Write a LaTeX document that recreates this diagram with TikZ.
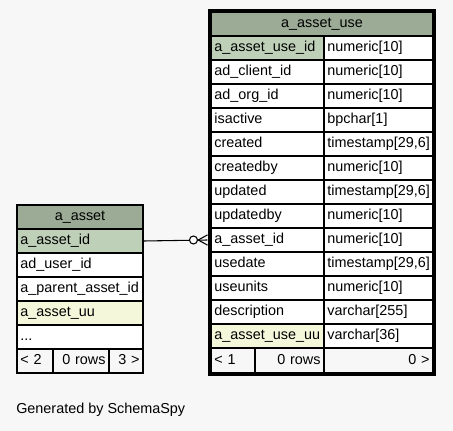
\documentclass[tikz,border=0pt]{standalone}
\usepackage{fontspec}
\setmainfont{Liberation Sans}
\definecolor{pagebg}{HTML}{F7F7F7}
\definecolor{hdr}{HTML}{9BAB96}
\definecolor{pk}{HTML}{BED1B8}
\definecolor{idx}{HTML}{F4F7DA}
\definecolor{foot}{HTML}{F7F7F7}
\tikzset{
  cell/.style={draw=black, line width=0.9pt, rectangle, inner xsep=2.6pt, inner ysep=0pt,
    font=\fontsize{10.8}{12}\selectfont, text height=8pt, text depth=2.4pt},
  conn/.style={draw=black, line width=0.8pt},
  focusborder/.style={draw=black, line width=2.4pt},
}
% name, x1, y1, x2, y2, fill, align, text
\newcommand{\mkcell}[8]{%
  \node[cell, fill=#6, minimum width={(#4-#2)*0.75pt}, minimum height={(#5-#3)*0.75pt},
        text width={(#4-#2)*0.75pt-5.2pt}, align=#7] (#1) at ({(#2+#4)/2},{(#3+#5)/2}) {#8};}
\begin{document}
\begin{tikzpicture}[x=0.75pt,y=-0.75pt]
\fill[pagebg] (0,0) rectangle (453,431);
\useasboundingbox (0,0) rectangle (453,431);

% ---- right table a_asset_use ----
\mkcell{uhdr}{211}{12}{433}{36}{hdr}{center}{a\_asset\_use}
\mkcell{uk0}{211}{36}{324}{60}{pk}{left}{a\_asset\_use\_id}
\mkcell{ut0}{324}{36}{433}{60}{white}{left}{numeric[10]}
\mkcell{uk1}{211}{60}{324}{84}{white}{left}{ad\_client\_id}
\mkcell{ut1}{324}{60}{433}{84}{white}{left}{numeric[10]}
\mkcell{uk2}{211}{84}{324}{108}{white}{left}{ad\_org\_id}
\mkcell{ut2}{324}{84}{433}{108}{white}{left}{numeric[10]}
\mkcell{uk3}{211}{108}{324}{132}{white}{left}{isactive}
\mkcell{ut3}{324}{108}{433}{132}{white}{left}{bpchar[1]}
\mkcell{uk4}{211}{132}{324}{156}{white}{left}{created}
\mkcell{ut4}{324}{132}{433}{156}{white}{left}{timestamp[29,6]}
\mkcell{uk5}{211}{156}{324}{180}{white}{left}{createdby}
\mkcell{ut5}{324}{156}{433}{180}{white}{left}{numeric[10]}
\mkcell{uk6}{211}{180}{324}{204}{white}{left}{updated}
\mkcell{ut6}{324}{180}{433}{204}{white}{left}{timestamp[29,6]}
\mkcell{uk7}{211}{204}{324}{228}{white}{left}{updatedby}
\mkcell{ut7}{324}{204}{433}{228}{white}{left}{numeric[10]}
\mkcell{uk8}{211}{228}{324}{252}{white}{left}{a\_asset\_id}
\mkcell{ut8}{324}{228}{433}{252}{white}{left}{numeric[10]}
\mkcell{uk9}{211}{252}{324}{276}{white}{left}{usedate}
\mkcell{ut9}{324}{252}{433}{276}{white}{left}{timestamp[29,6]}
\mkcell{uk10}{211}{276}{324}{300}{white}{left}{useunits}
\mkcell{ut10}{324}{276}{433}{300}{white}{left}{numeric[10]}
\mkcell{uk11}{211}{300}{324}{324}{white}{left}{description}
\mkcell{ut11}{324}{300}{433}{324}{white}{left}{varchar[255]}
\mkcell{uk12}{211}{324}{324}{348}{idx}{left}{a\_asset\_use\_uu}
\mkcell{ut12}{324}{324}{433}{348}{white}{left}{varchar[36]}
\mkcell{uf0}{211}{348}{255}{373}{foot}{left}{< 1}
\mkcell{uf1}{255}{348}{324}{373}{foot}{right}{0 rows}
\mkcell{uf2}{324}{348}{433}{373}{foot}{right}{0 >}
\draw[focusborder] (209.5,10.5) rectangle (434.5,374.5);

% ---- left table a_asset ----
\mkcell{ahdr}{17}{205}{143}{229}{hdr}{center}{a\_asset}
\mkcell{ak0}{17}{229}{143}{253}{pk}{left}{a\_asset\_id}
\mkcell{ak1}{17}{253}{143}{277}{white}{left}{ad\_user\_id}
\mkcell{ak2}{17}{277}{143}{301}{white}{left}{a\_parent\_asset\_id}
\mkcell{ak3}{17}{301}{143}{325}{idx}{left}{a\_asset\_uu}
\mkcell{ak4}{17}{325}{143}{349}{white}{left}{...}
\mkcell{af0}{17}{349}{53}{373}{foot}{left}{< 2}
\mkcell{af1}{53}{349}{109}{373}{foot}{right}{0 rows}
\mkcell{af2}{109}{349}{143}{373}{foot}{right}{3 >}

% ---- connector (crow's foot with open circle) ----
\coordinate (cend) at ([xshift=-2.2pt]uk8.west);
\coordinate (capex) at ([xshift=-7pt]cend);
\coordinate (ccirc) at ([xshift=-10.5pt]cend);
\draw[conn] (ak0.east) -- (cend);
\draw[conn] (capex) -- ([yshift=3.8pt]cend);
\draw[conn] (capex) -- ([yshift=-3.8pt]cend);
\draw[conn, fill=white] (ccirc) circle (3pt);

% ---- caption ----
\node[anchor=west, inner sep=0pt, font=\fontsize{10.8}{12}\selectfont] (gen) at (16,410) {Generated by SchemaSpy};
\end{tikzpicture}
\end{document}
